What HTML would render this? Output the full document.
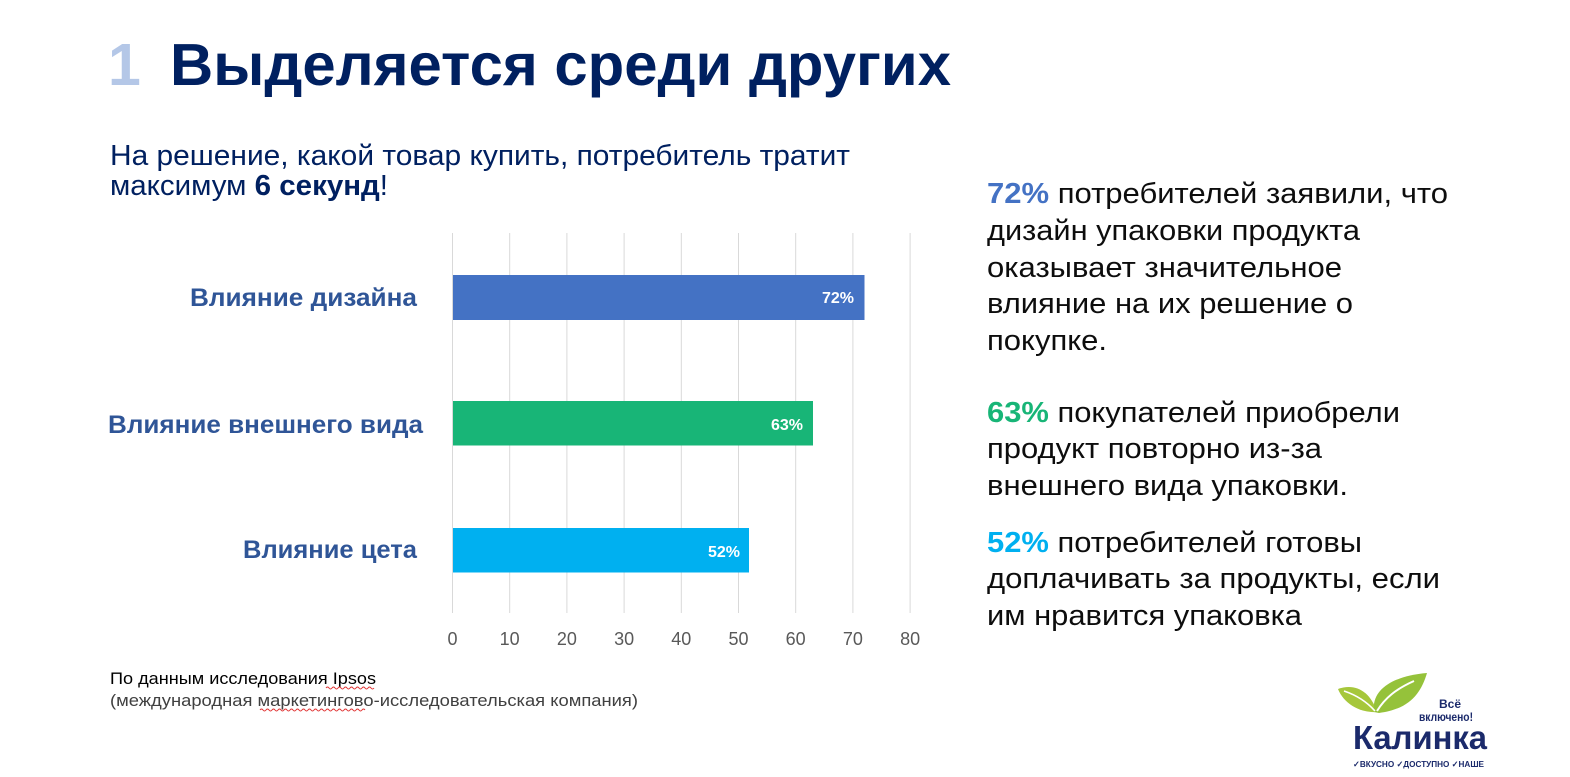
<!DOCTYPE html>
<html><head><meta charset="utf-8"><style>
html,body{margin:0;padding:0;background:#fff;}
svg{display:block;}
text{font-family:"Liberation Sans",Arial,sans-serif;}
</style></head><body>
<svg width="1570" height="777" viewBox="0 0 1570 777" xmlns="http://www.w3.org/2000/svg">
<rect width="1570" height="777" fill="#fff"/>
<!-- Title -->
<text x="108" y="85" font-size="59" font-weight="bold" fill="#b4c7e7">1</text>
<text x="170" y="85" font-size="59" font-weight="bold" fill="#002060" textLength="781" lengthAdjust="spacingAndGlyphs">Выделяется среди других</text>
<!-- Subtitle -->
<text x="110" y="165" font-size="29" fill="#002060" textLength="740" lengthAdjust="spacingAndGlyphs">На решение, какой товар купить, потребитель тратит</text>
<text x="110" y="195" font-size="29" fill="#002060" textLength="278" lengthAdjust="spacingAndGlyphs">максимум <tspan font-weight="bold">6 секунд</tspan>!</text>

<!-- Gridlines -->
<g stroke="#d9d9d9" stroke-width="1">
<line x1="452.5" y1="233" x2="452.5" y2="613"/>
<line x1="509.7" y1="233" x2="509.7" y2="613"/>
<line x1="566.9" y1="233" x2="566.9" y2="613"/>
<line x1="624.1" y1="233" x2="624.1" y2="613"/>
<line x1="681.3" y1="233" x2="681.3" y2="613"/>
<line x1="738.5" y1="233" x2="738.5" y2="613"/>
<line x1="795.7" y1="233" x2="795.7" y2="613"/>
<line x1="852.9" y1="233" x2="852.9" y2="613"/>
<line x1="910.1" y1="233" x2="910.1" y2="613"/>
</g>
<!-- Bars -->
<rect x="453" y="275" width="411.5" height="45" fill="#4472c4"/>
<rect x="453" y="401" width="360" height="44.5" fill="#18b577"/>
<rect x="453" y="528" width="296" height="44.5" fill="#00b0f0"/>
<g font-size="16" font-weight="bold" fill="#fff" text-anchor="end">
<text x="854" y="303">72%</text>
<text x="803" y="430">63%</text>
<text x="740" y="557">52%</text>
</g>
<!-- Tick labels -->
<g font-size="18" fill="#595959" text-anchor="middle">
<text x="452.5" y="645">0</text>
<text x="509.7" y="645">10</text>
<text x="566.9" y="645">20</text>
<text x="624.1" y="645">30</text>
<text x="681.3" y="645">40</text>
<text x="738.5" y="645">50</text>
<text x="795.7" y="645">60</text>
<text x="852.9" y="645">70</text>
<text x="910.1" y="645">80</text>
</g>
<!-- Category labels -->
<g font-size="25" font-weight="bold" fill="#2f5597">
<text x="190" y="306" textLength="227" lengthAdjust="spacingAndGlyphs">Влияние дизайна</text>
<text x="108" y="433" textLength="315" lengthAdjust="spacingAndGlyphs">Влияние внешнего вида</text>
<text x="243" y="558" textLength="174" lengthAdjust="spacingAndGlyphs">Влияние цета</text>
</g>

<!-- Right text -->
<g font-size="29" fill="#0d0d0d">
<text x="987" y="203" textLength="461" lengthAdjust="spacingAndGlyphs"><tspan font-weight="bold" fill="#4472c4">72%</tspan> потребителей заявили, что</text>
<text x="987" y="240" textLength="373" lengthAdjust="spacingAndGlyphs">дизайн упаковки продукта</text>
<text x="987" y="277" textLength="355" lengthAdjust="spacingAndGlyphs">оказывает значительное</text>
<text x="987" y="313" textLength="366" lengthAdjust="spacingAndGlyphs">влияние на их решение о</text>
<text x="987" y="350" textLength="120" lengthAdjust="spacingAndGlyphs">покупке.</text>

<text x="987" y="422" textLength="413" lengthAdjust="spacingAndGlyphs"><tspan font-weight="bold" fill="#18b577">63%</tspan> покупателей приобрели</text>
<text x="987" y="458" textLength="335" lengthAdjust="spacingAndGlyphs">продукт повторно из-за</text>
<text x="987" y="495" textLength="361" lengthAdjust="spacingAndGlyphs">внешнего вида упаковки.</text>

<text x="987" y="552" textLength="375" lengthAdjust="spacingAndGlyphs"><tspan font-weight="bold" fill="#00b0f0">52%</tspan> потребителей готовы</text>
<text x="987" y="588" textLength="453" lengthAdjust="spacingAndGlyphs">доплачивать за продукты, если</text>
<text x="987" y="625" textLength="315" lengthAdjust="spacingAndGlyphs">им нравится упаковка</text>
</g>

<!-- Footnote -->
<text x="110" y="684" font-size="17" fill="#000" textLength="266" lengthAdjust="spacingAndGlyphs">По данным исследования Ipsos</text>
<text x="110" y="706" font-size="17" fill="#404040" textLength="528" lengthAdjust="spacingAndGlyphs">(международная маркетингово-исследовательская компания)</text>
<path d="M326 688 q1.5 -2 3 0 t3 0 t3 0 t3 0 t3 0 t3 0 t3 0 t3 0 t3 0 t3 0 t3 0 t3 0 t3 0 t3 0 t3 0 t3 0" stroke="#e03030" stroke-width="1" fill="none"/>
<path d="M260 710 q1.5 -2 3 0 t3 0 t3 0 t3 0 t3 0 t3 0 t3 0 t3 0 t3 0 t3 0 t3 0 t3 0 t3 0 t3 0 t3 0 t3 0 t3 0 t3 0 t3 0 t3 0 t3 0 t3 0 t3 0 t3 0 t3 0 t3 0 t3 0 t3 0 t3 0 t3 0 t3 0 t3 0 t3 0 t3 0 t3 0" stroke="#e03030" stroke-width="1" fill="none"/>

<!-- Logo -->
<path d="M1338 689 C1354 683 1370 690 1377 712 C1360 713 1344 704 1338 689 Z" fill="#a6c73b"/>
<path d="M1374 712 C1371 690 1392 676 1427 673 C1421 693 1410 709 1379 713 Z" fill="#95c23a"/>
<path d="M1377 711 C1385 698 1396 689 1414 681" stroke="#fff" stroke-width="2" fill="none"/>
<path d="M1375 711 C1367 702 1356 695 1344 691" stroke="#fff" stroke-width="1.6" fill="none"/>
<text x="1450" y="708" font-size="12" font-weight="bold" fill="#1b2a6b" text-anchor="middle">Всё</text>
<text x="1419" y="721" font-size="12" font-weight="bold" fill="#1b2a6b" textLength="54" lengthAdjust="spacingAndGlyphs">включено!</text>
<text x="1353" y="749" font-size="33" font-weight="bold" fill="#1b2a6b" textLength="134" lengthAdjust="spacingAndGlyphs">Калинка</text>
<text x="1353" y="767" font-size="8.5" font-weight="bold" fill="#1b2a6b" textLength="131" lengthAdjust="spacingAndGlyphs">✓ВКУСНО ✓ДОСТУПНО ✓НАШЕ</text>
</svg>
</body></html>
